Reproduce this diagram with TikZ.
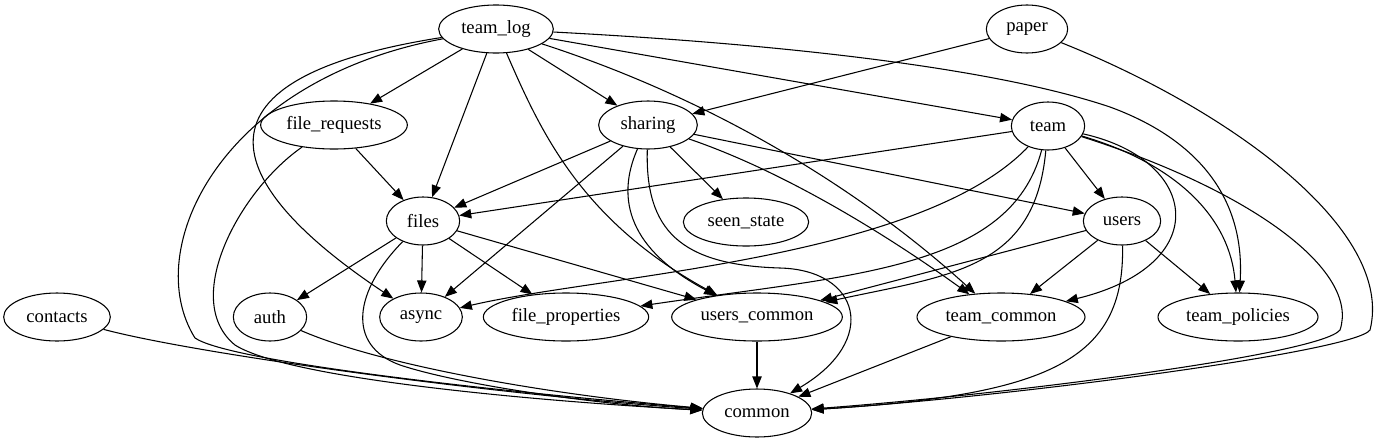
\documentclass[tikz,border=0pt]{standalone}
\usepackage{fontspec}
\setmainfont{Liberation Serif}
\usepackage{tikz}
\usetikzlibrary{arrows, arrows.meta, shapes.geometric}

\begin{document}
\begin{tikzpicture}[x=0.75pt, y=-0.75pt, line width=0.8pt, >={Triangle[length=9pt, width=7pt]}]
\tikzstyle{module}=[ellipse, draw, minimum height=36pt, inner sep=0pt, font=\fontsize{14pt}{16pt}\selectfont]
\useasboundingbox (0,0) rectangle (1387,443);

\node[module, minimum width=86pt] (team_log) at (496,29) {team\_log};
\node[module, minimum width=61pt] (paper) at (1027,29) {paper};
\node[module, minimum width=110pt] (file_requests) at (334,125) {file\_requests};
\node[module, minimum width=74pt] (sharing) at (648,125) {sharing};
\node[module, minimum width=55pt] (team) at (1048,126) {team};
\node[module, minimum width=55pt] (files) at (423,221) {files};
\node[module, minimum width=94pt] (seen_state) at (746,222) {seen\_state};
\node[module, minimum width=58pt] (users) at (1122,221) {users};
\node[module, minimum width=80pt] (contacts) at (57,317) {contacts};
\node[module, minimum width=55pt] (auth) at (270,317) {auth};
\node[module, minimum width=62pt] (async) at (421,317) {async};
\node[module, minimum width=124pt] (file_properties) at (566,317) {file\_properties};
\node[module, minimum width=128pt] (users_common) at (757,317) {users\_common};
\node[module, minimum width=126pt] (team_common) at (1001,317) {team\_common};
\node[module, minimum width=120pt] (team_policies) at (1238,317) {team\_policies};
\node[module, minimum width=82pt] (common) at (757,413) {common};

% straight edges
\path[->]
(team_log) edge (file_requests)
    edge (files)
    edge (sharing)
    edge (team)
(paper) edge (sharing)
(file_requests) edge (files)
(sharing) edge (files)
    edge (async)
    edge (seen_state)
    edge (users)
(team) edge (files)
    edge (users)
(files) edge (auth)
    edge (async)
    edge (file_properties)
    edge (users_common)
(users) edge (users_common)
    edge (team_common)
    edge (team_policies)
(users_common) edge (common)
(team_common) edge (common);

% curved edges
\draw[->] (team_log) .. controls (170,80) and (230,190) .. (async);
\draw[->] (team_log) .. controls (220,80) and (140,250) .. (195,338)
    .. controls (230,362) and (500,392) .. (common);
\draw[->] (team_log) .. controls (540,130) and (580,220) .. (users_common);
\draw[->] (team_log) .. controls (700,95) and (850,180) .. (team_common);
\draw[->] (team_log) .. controls (800,45) and (1000,70) .. (1110,107)
    .. controls (1200,140) and (1245,200) .. (team_policies);
\draw[->] (paper) .. controls (1230,110) and (1395,230) .. (1370,330)
    .. controls (1355,352) and (1000,398) .. (common);
\draw[->] (file_requests) .. controls (240,190) and (180,300) .. (235,345)
    .. controls (290,380) and (550,402) .. (common);
\draw[->] (sharing) .. controls (615,200) and (630,250) .. (users_common);
\draw[->] (sharing) .. controls (645,230) and (680,265) .. (780,268)
    .. controls (860,270) and (880,340) .. (common);
\draw[->] (sharing) .. controls (780,170) and (880,230) .. (team_common);
\draw[->] (team) .. controls (920,260) and (600,275) .. (async);
\draw[->] (team) .. controls (1010,270) and (850,275) .. (file_properties);
\draw[->] (team) .. controls (1035,270) and (950,275) .. (users_common);
\draw[->] (team) .. controls (1200,160) and (1215,265) .. (team_common);
\draw[->] (team) .. controls (1180,165) and (1230,220) .. (team_policies);
\draw[->] (team) .. controls (1250,190) and (1360,270) .. (1340,330)
    .. controls (1320,355) and (1000,395) .. (common);
\draw[->] (files) .. controls (355,290) and (345,345) .. (400,365)
    .. controls (460,385) and (600,405) .. (common);
\draw[->] (users) .. controls (1125,360) and (1050,395) .. (common);
\draw[->] (contacts) .. controls (200,355) and (500,395) .. (common);
\draw[->] (auth) .. controls (380,365) and (550,395) .. (common);
\end{tikzpicture}
\end{document}
